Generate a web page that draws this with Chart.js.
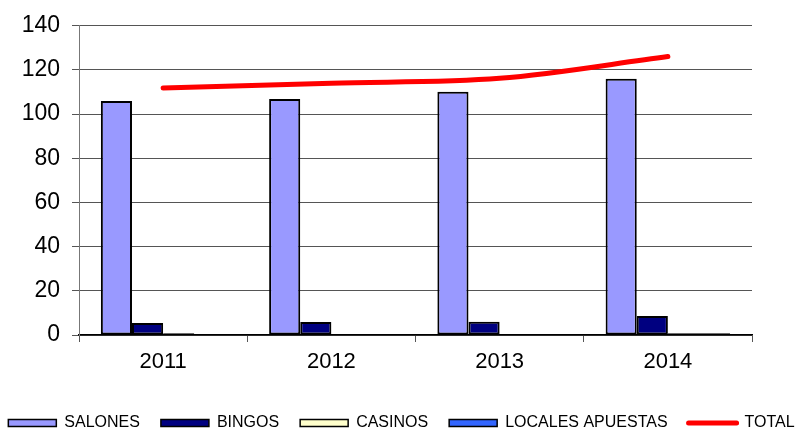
<!DOCTYPE html>
<html>
<head>
<meta charset="utf-8">
<script src="https://cdn.jsdelivr.net/npm/chart.js@4"></script>
<style>
  body { margin: 0; background: #fff; }
</style>
</head>
<body>
<canvas id="grafico" width="803" height="428"></canvas>
<script>
// datos
const anios = ['2011', '2012', '2013', '2014'];
const salones = [106.0, 106.8, 110.1, 116.0];
const bingos = [5.4, 5.9, 6.0, 8.6];
const casinos = [0.8, 0, 0, 0.8];
const localesApuestas = [0, 0, 0, 0.8];
const total = [111.8, 114.0, 116.2, 126.1];
const ticksY = [0, 20, 40, 60, 80, 100, 120, 140];

const fuente = "'Liberation Sans', Arial, sans-serif";

function barra(label, data, color) {
    return {
        type: 'bar',
        label: label,
        data: data,
        backgroundColor: color,
        borderColor: '#000',
        borderWidth: 2,
        borderSkipped: false,
        order: 1
    };
}

const ctx = document.getElementById('grafico').getContext('2d');

new Chart(ctx, {
    data: {
        labels: anios,
        datasets: [
            barra('SALONES', salones, '#9999FF'),
            barra('BINGOS', bingos, '#000080'),
            barra('CASINOS', casinos, '#FFFFCC'),
            barra('LOCALES APUESTAS', localesApuestas, '#3366FF'),
            {
                type: 'line',
                label: 'TOTAL',
                data: total,
                borderColor: '#FF0000',
                backgroundColor: '#FF0000',
                borderWidth: 5,
                borderCapStyle: 'round',
                pointRadius: 0,
                cubicInterpolationMode: 'monotone',
                order: 0
            }
        ]
    },
    options: {
        responsive: false,
        animation: false,
        layout: { padding: { top: 19, left: 0, right: 0, bottom: -13 } },
        datasets: {
            bar: { categoryPercentage: 0.74, barPercentage: 1.0 }
        },
        scales: {
            x: {
                grid: { display: true, drawOnChartArea: false, drawTicks: true, tickLength: 7, color: '#555', offset: true },
                border: { color: '#000', width: 1.5 },
                ticks: { color: '#000', font: { family: fuente, size: 22 }, padding: 7 },
                afterFit: function (scale) { scale.height = 75; }
            },
            y: {
                min: 0,
                max: 140,
                afterBuildTicks: function (scale) {
                    scale.ticks = ticksY.map(v => ({ value: v }));
                },
                grid: { color: '#555', tickLength: 7 },
                border: { color: '#777', width: 1 },
                ticks: { color: '#000', font: { family: fuente, size: 23 }, padding: 12 },
                afterFit: function (scale) { scale.width = 79; }
            },
            derecha: {
                position: 'right',
                display: true,
                grid: { display: false },
                border: { display: false },
                ticks: { display: false },
                afterFit: function (scale) { scale.width = 51; }
            }
        },
        plugins: {
            tooltip: { enabled: false },
            legend: {
                position: 'bottom',
                labels: {
                    usePointStyle: true,
                    pointStyleWidth: 48,
                    boxHeight: 7,
                    padding: 5,
                    color: '#000',
                    font: { family: fuente, size: 16 },
                    generateLabels: function (chart) {
                        const n = chart.data.datasets.length;
                        return chart.data.datasets.map(function (ds, i) {
                            const esLinea = ds.type === 'line';
                            return {
                                text: ds.label + (i < n - 1 ? '\u2003' : ''),
                                fillStyle: ds.backgroundColor,
                                strokeStyle: esLinea ? ds.borderColor : '#000',
                                lineWidth: esLinea ? 5 : 1.5,
                                lineCap: esLinea ? 'round' : 'butt',
                                pointStyle: esLinea ? 'line' : 'rect',
                                fontColor: '#000',
                                hidden: false,
                                datasetIndex: i
                            };
                        });
                    }
                }
            }
        }
    }
});
</script>
</body>
</html>
